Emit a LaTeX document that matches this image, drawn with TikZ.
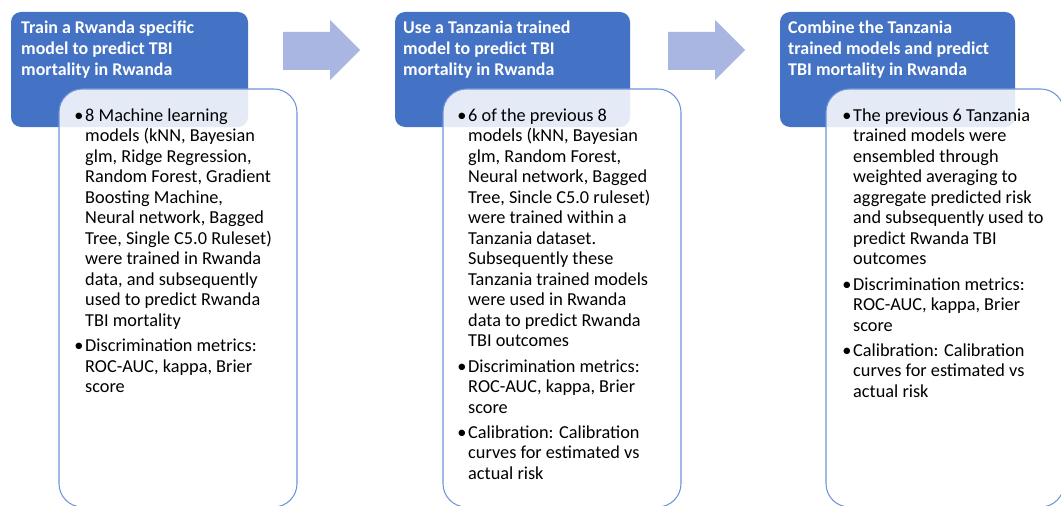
\documentclass[tikz,border=0pt]{standalone}
\usepackage{fontspec}
\setmainfont{Carlito}
\definecolor{hdblue}{RGB}{68,114,196}
\definecolor{edgeblue}{RGB}{112,146,216}
\definecolor{arrowblue}{RGB}{170,182,226}
\tikzset{
  hdbox/.style={fill=hdblue, rounded corners=0.3cm},
  bodybox/.style={draw=edgeblue, line width=0.9pt, fill=white, fill opacity=0.86, rounded corners=0.7cm},
  blockarrow/.style={fill=arrowblue},
  hdtext/.style={anchor=north west, inner sep=0, align=left, text=white, font=\fontsize{15.3}{17.9}\selectfont\bfseries},
  bodytext/.style={anchor=north west, inner sep=0, align=left, font=\fontsize{15.6}{17.5}\selectfont}
}
\newcommand{\bul}{\llap{\textbullet\hspace{1.5pt}}}
\begin{document}
\begin{tikzpicture}[x=0.03cm,y=-0.03cm]
  \clip (0,0) rectangle (1061,506);
  % step boxes
  \fill[hdbox] (11,12) rectangle (248,127);
  \fill[hdbox] (395,12) rectangle (630,127);
  \fill[hdbox] (780,12) rectangle (1015,127);
  \draw[bodybox] (59,89) rectangle (297,507);
  \draw[bodybox] (443,89) rectangle (681,507);
  \draw[bodybox] (826,89) rectangle (1064,507);
  % arrows between steps
  \fill[blockarrow] (283,32) -- (330,32) -- (330,20) -- (360,50) -- (330,80) -- (330,70) -- (283,70) -- cycle;
  \fill[blockarrow] (668,32) -- (715,32) -- (715,20) -- (745,50) -- (715,80) -- (715,70) -- (668,70) -- cycle;
  % headers
  \node[hdtext] (hd1) at (21,20.5) {Train a Rwanda specific\\model to predict TBI\\mortality in Rwanda};
  \node[hdtext] (hd2) at (403,20.5) {Use a Tanzania trained\\model to predict TBI\\mortality in Rwanda};
  \node[hdtext] (hd3) at (788,20.5) {Combine the Tanzania\\trained models and predict\\TBI mortality in Rwanda};
  % details
  \node[bodytext] (bd1) at (85,108.5) {\bul 8 Machine learning\\models (kNN, Bayesian\\glm, Ridge Regression,\\Random Forest, Gradient\\Boosting Machine,\\Neural network, Bagged\\Tree, Single C5.0 Ruleset)\\were trained in Rwanda\\data, and subsequently\\used to predict Rwanda\\TBI mortality\\[4pt]
    \bul Discrimination metrics:\\ROC-AUC, kappa, Brier\\score};
  \node[bodytext] (bd2) at (468,108.5) {\bul 6 of the previous 8\\models (kNN, Bayesian\\glm, Random Forest,\\Neural network, Bagged\\Tree, Sincle C5.0 ruleset)\\were trained within a\\Tanzania dataset.\\Subsequently these\\Tanzania trained models\\were used in Rwanda\\data to predict Rwanda\\TBI outcomes\\[4pt]
    \bul Discrimination metrics:\\ROC-AUC, kappa, Brier\\score\\[4pt]
    \bul Calibration: Calibration\\curves for estimated vs\\actual risk};
  \node[bodytext] (bd3) at (853,108.5) {\bul The previous 6 Tanzania\\trained models were\\ensembled through\\weighted averaging to\\aggregate predicted risk\\and subsequently used to\\predict Rwanda TBI\\outcomes\\[4pt]
    \bul Discrimination metrics:\\ROC-AUC, kappa, Brier\\score\\[4pt]
    \bul Calibration: Calibration\\curves for estimated vs\\actual risk};
\end{tikzpicture}
\end{document}
